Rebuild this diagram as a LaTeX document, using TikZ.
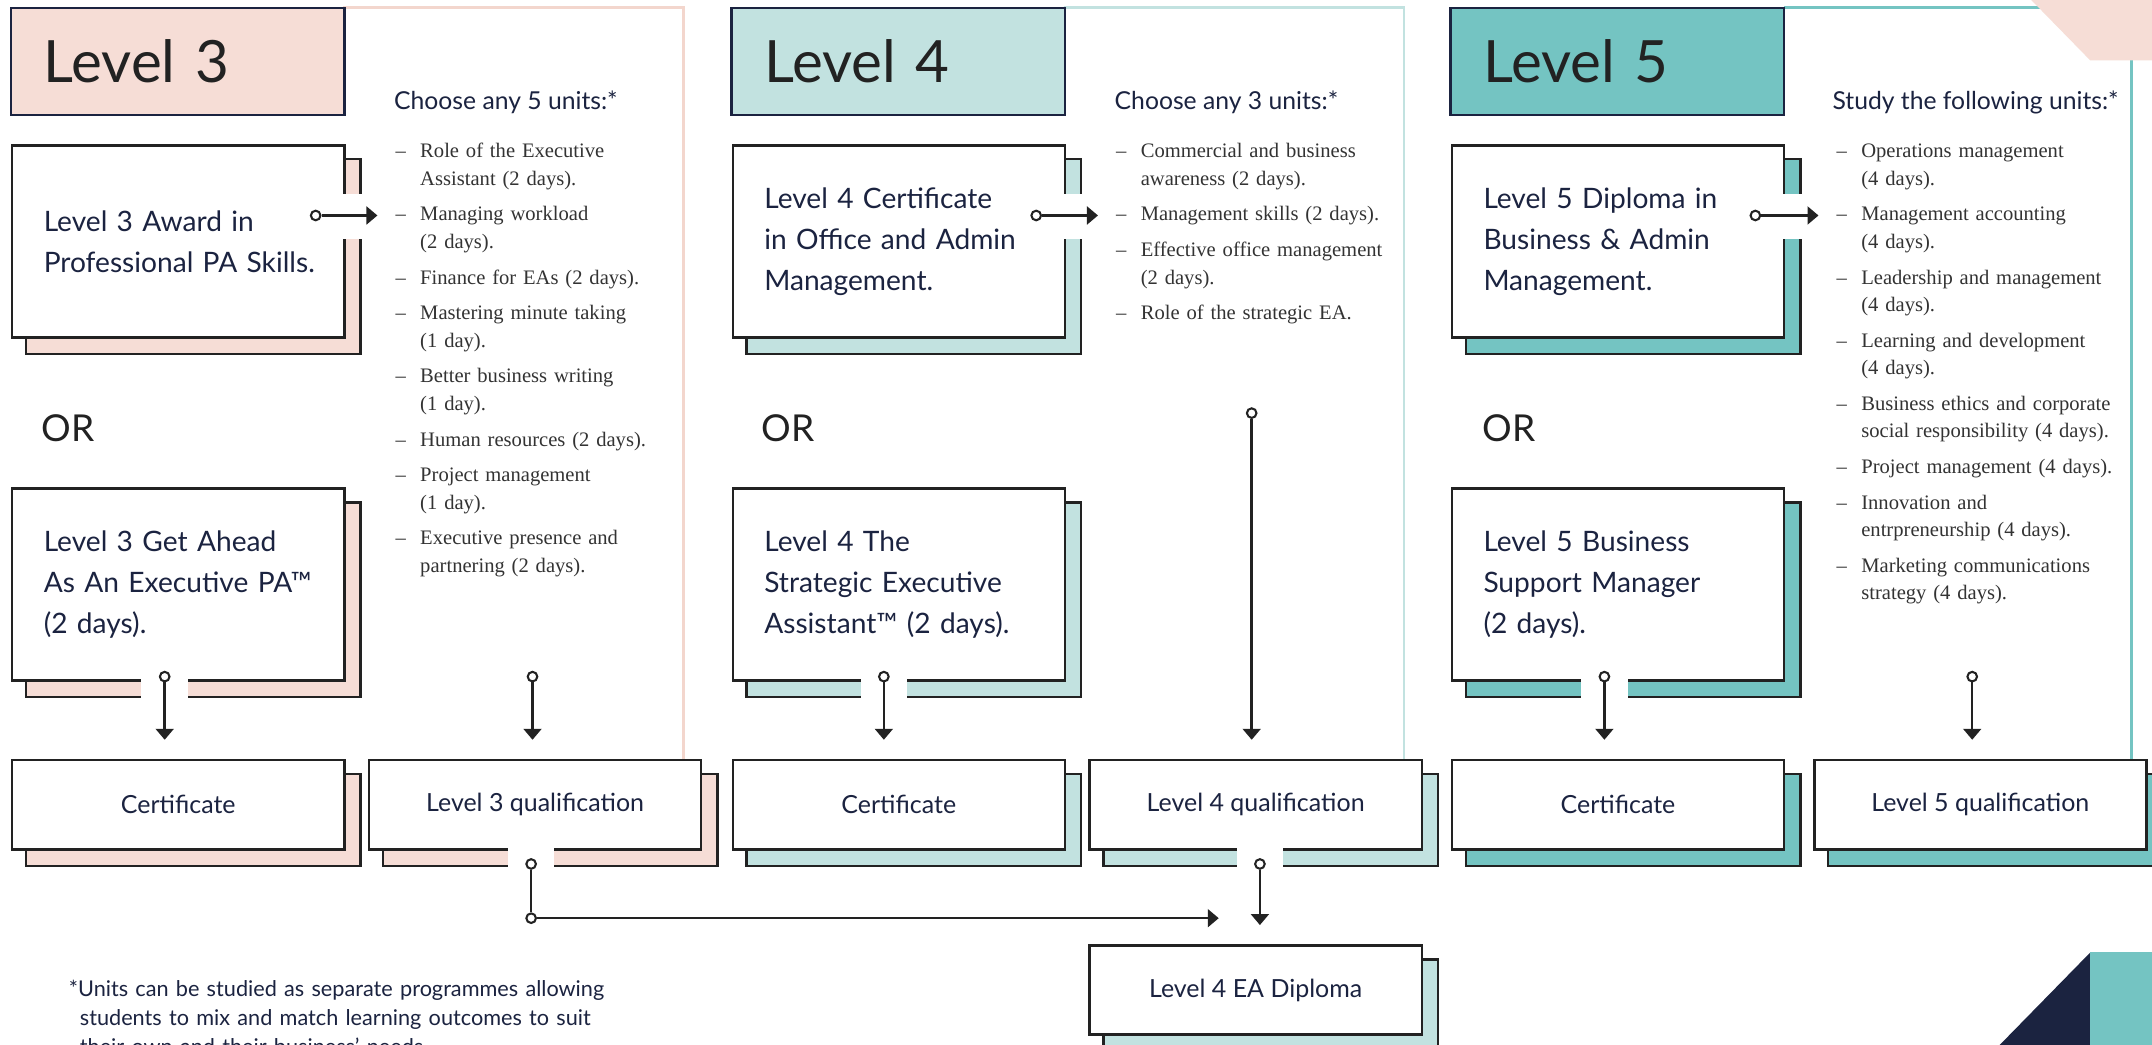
\documentclass[tikz,border=0pt]{standalone}
\usepackage{fontspec}
\setmainfont{Liberation Serif}
\newfontfamily\sansf{Lato}
\newfontfamily\serf{Liberation Serif}
\usetikzlibrary{arrows.meta}
\definecolor{pinkc}{HTML}{F6DDD6}
\definecolor{pinkline}{HTML}{F3D6CD}
\definecolor{lteal}{HTML}{C2E2E0}
\definecolor{teal5}{HTML}{74C4C2}
\definecolor{navy}{HTML}{1B2340}
\definecolor{ink}{HTML}{222222}
\definecolor{bodyc}{HTML}{333333}
\pgfdeclarelayer{bgZ}
\pgfdeclarelayer{bgA}
\pgfdeclarelayer{bgB}
\pgfsetlayers{bgZ,bgA,bgB,main}
\newcommand\mkshadow[2]{\begin{pgfonlayer}{bgB}\draw[draw=ink,line width=1.8pt,fill=#2] ([shift={(11pt,-11pt)}]#1.north west) rectangle ([shift={(11pt,-11pt)}]#1.south east);\end{pgfonlayer}}
\newcommand\itm[1]{\noindent\makebox[18pt][l]{–}#1\par\vspace{6pt}}
\newcommand\itmm[2]{\noindent\makebox[18pt][l]{–}#1\par\noindent\hspace*{18pt}#2\par\vspace{6pt}}
\newcommand\bl[1]{\mbox{#1}}
\begin{document}
\begin{tikzpicture}[x=1pt,y=-1pt,
  hdr/.style={draw=navy,line width=1.8pt,anchor=north west,minimum height=78pt,inner sep=0pt,inner xsep=24pt,text width=195pt,align=left,font=\sansf\fontsize{42.5}{42}\selectfont,text=ink},
  frontbox/.style={draw=ink,line width=1.8pt,fill=white,anchor=north west,inner sep=0pt},
  bigbox/.style={frontbox,minimum height=140pt,inner xsep=8pt,text width=226pt,execute at begin node={\raggedright\leftskip=15pt\relax},font=\sansf\fontsize{20.5}{30}\selectfont,text=navy},
  smallbox/.style={frontbox,minimum width=242pt,minimum height=65pt,align=center,font=\sansf\fontsize{18.2}{20}\selectfont,text=navy},
  choose/.style={anchor=base west,inner sep=0pt,font=\sansf\fontsize{18}{20}\selectfont,text=navy},
  listtxt/.style={anchor=base west,inner sep=0pt,text width=230pt,font=\serf\fontsize{15}{20}\selectfont,text=bodyc},
  ortxt/.style={anchor=west,inner sep=0pt,font=\sansf\fontsize{27}{27}\selectfont,text=ink},
  dot/.style={circle,draw=ink,fill=white,line width=1.5pt,minimum size=7pt,inner sep=0pt},
  arr/.style={draw=ink,line width=1.8pt,-{Triangle[width=13pt,length=8pt]}},
  ln/.style={draw=ink,line width=1.8pt},
  gap/.style={fill=white},
  panel/.style={line width=1.6pt}
]
\useasboundingbox (0,0) rectangle (1568,761.4);
\begin{pgfonlayer}{bgZ}
\fill[white] (0,0) rectangle (1568,761.4);
\end{pgfonlayer}

% ---------------- Level 3 ----------------
\node[hdr,fill=pinkc] (h3) at (7,5) {Level 3};
\begin{pgfonlayer}{bgA}
\draw[panel,draw=pinkline] (250,5.5) -- (498,5.5) -- (498,553);
\end{pgfonlayer}
\node[choose] (ch3) at (287,80) {Choose any 5 units:*};
\node[listtxt] (ls3) at (288,115) {%
\itmm{Role of the Executive}{Assistant (2 days).}%
\itmm{Managing workload}{(2 days).}%
\itm{Finance for EAs (2 days).}%
\itmm{Mastering minute taking}{(1 day).}%
\itmm{Better business writing}{(1 day).}%
\itm{Human resources (2 days).}%
\itmm{Project management}{(1 day).}%
\itmm{Executive presence and}{partnering (2 days).}};

\node[bigbox] (a1) at (8,105) {\bl{Level 3 Award in}\\\bl{Professional PA Skills.}};
\mkshadow{a1}{pinkc}
\node[ortxt] (or3) at (30,312) {OR};
\node[bigbox] (a2) at (8,355) {\bl{Level 3 Get Ahead}\\\bl{As An Executive PA™}\\\bl{(2 days).}};
\mkshadow{a2}{pinkc}
\node[smallbox] (c3) at (8,553) {Certificate};
\mkshadow{c3}{pinkc}
\node[smallbox] (q3) at (268,553) {Level 3 qualification};
\mkshadow{q3}{pinkc}

% ---------------- Level 4 ----------------
\node[hdr,fill=lteal] (h4) at (532,5) {Level 4};
\begin{pgfonlayer}{bgA}
\draw[panel,draw=lteal] (775,5.5) -- (1023,5.5) -- (1023,553);
\end{pgfonlayer}
\node[choose] (ch4) at (812,80) {Choose any 3 units:*};
\node[listtxt] (ls4) at (813,115) {%
\itmm{Commercial and business}{awareness (2 days).}%
\itm{Management skills (2 days).}%
\itmm{Effective office management}{(2 days).}%
\itm{Role of the strategic EA.}};

\node[bigbox] (b1) at (533,105) {\bl{Level 4 Certificate}\\\bl{in Office and Admin}\\\bl{Management.}};
\mkshadow{b1}{lteal}
\node[ortxt] (or4) at (555,312) {OR};
\node[bigbox] (b2) at (533,355) {\bl{Level 4 The}\\\bl{Strategic Executive}\\\bl{Assistant™ (2 days).}};
\mkshadow{b2}{lteal}
\node[smallbox] (c4) at (533,553) {Certificate};
\mkshadow{c4}{lteal}
\node[smallbox] (q4) at (793,553) {Level 4 qualification};
\mkshadow{q4}{lteal}
\node[smallbox] (dip) at (793,688) {Level 4 EA Diploma};
\mkshadow{dip}{lteal}

% ---------------- Level 5 ----------------
\node[hdr,fill=teal5] (h5) at (1056,5) {Level 5};
\begin{pgfonlayer}{bgA}
\draw[panel,draw=teal5] (1300,5.5) -- (1553,5.5) -- (1553,553);
\end{pgfonlayer}
\node[choose] (ch5) at (1335,80) {Study the following units:*};
\node[listtxt] (ls5) at (1338,115) {%
\itmm{Operations management}{(4 days).}%
\itmm{Management accounting}{(4 days).}%
\itmm{Leadership and management}{(4 days).}%
\itmm{Learning and development}{(4 days).}%
\itmm{Business ethics and corporate}{social responsibility (4 days).}%
\itm{Project management (4 days).}%
\itmm{Innovation and}{entrpreneurship (4 days).}%
\itmm{Marketing communications}{strategy (4 days).}};

\node[bigbox] (e1) at (1057,105) {\bl{Level 5 Diploma in}\\\bl{Business \& Admin}\\\bl{Management.}};
\mkshadow{e1}{teal5}
\node[ortxt] (or5) at (1080,312) {OR};
\node[bigbox] (e2) at (1057,355) {\bl{Level 5 Business}\\\bl{Support Manager}\\\bl{(2 days).}};
\mkshadow{e2}{teal5}
\node[smallbox] (c5) at (1057,553) {Certificate};
\mkshadow{c5}{teal5}
\node[smallbox] (q5) at (1321,553) {Level 5 qualification};
\mkshadow{q5}{teal5}

% ---------------- gaps in box edges ----------------
\fill[gap] (247,141) rectangle (264,174);
\fill[gap] (772,141) rectangle (789,174);
\fill[gap] (1297,141) rectangle (1314,174);
\fill[gap] (103,494) rectangle (137,510);
\fill[gap] (627,494) rectangle (661,510);
\fill[gap] (1152,494) rectangle (1186,510);
\fill[gap] (370,616.5) rectangle (404,631.5);
\fill[gap] (901,616.5) rectangle (935,631.5);

% ---------------- connectors ----------------
\node[dot] (a1d) at (230,157) {};
\coordinate (a1t) at (275,157);
\draw[arr] (a1d) -- (a1t);
\node[dot] (b1d) at (755,157) {};
\coordinate (b1t) at (800,157);
\draw[arr] (b1d) -- (b1t);
\node[dot] (e1d) at (1279,157) {};
\coordinate (e1t) at (1325,157);
\draw[arr] (e1d) -- (e1t);

\node[dot] (a2d) at (120,493) {};
\draw[arr,shorten >=14pt] (a2d) -- (a2d |- c3.north);
\node[dot] (b2d) at (644,493) {};
\draw[arr,shorten >=14pt] (b2d) -- (b2d |- c4.north);
\node[dot] (e2d) at (1169,493) {};
\draw[arr,shorten >=14pt] (e2d) -- (e2d |- c5.north);

\node[dot] (f3d) at (388,493) {};
\draw[arr,shorten >=14pt] (f3d) -- (f3d |- q3.north);
\node[dot] (f4d) at (912,301) {};
\draw[arr,shorten >=14pt] (f4d) -- (f4d |- q4.north);
\node[dot] (f5d) at (1437,493) {};
\draw[arr,shorten >=14pt] (f5d) -- (f5d |- q5.north);

\node[dot] (q3d) at (387,629.5) {};
\node[dot] (jn) at (387,669) {};
\draw[ln] (q3d) -- (jn);
\coordinate (jt) at (888,669);
\draw[arr] (jn) -- (jt);
\node[dot] (q4d) at (918,629.5) {};
\draw[arr,shorten >=14pt] (q4d) -- (q4d |- dip.north);

% ---------------- footnote ----------------
\node[anchor=base west,inner sep=0pt,text width=440pt,font=\sansf\fontsize{15.8}{21}\selectfont,text=navy] (fn) at (50,726)
{\noindent *Units can be studied as separate programmes allowing\par\noindent\hspace*{8pt}students to mix and match learning outcomes to suit\par\noindent\hspace*{8pt}their own and their business’ needs.\par};

% ---------------- corner decorations ----------------
\fill[pinkc] (1480,0) -- (1568,0) -- (1568,44) -- (1523,44) -- cycle;
\fill[navy] (1457,761.4) -- (1523,694) -- (1523,761.4) -- cycle;
\fill[teal5] (1523,694) rectangle (1568,761.4);
\end{tikzpicture}
\end{document}
